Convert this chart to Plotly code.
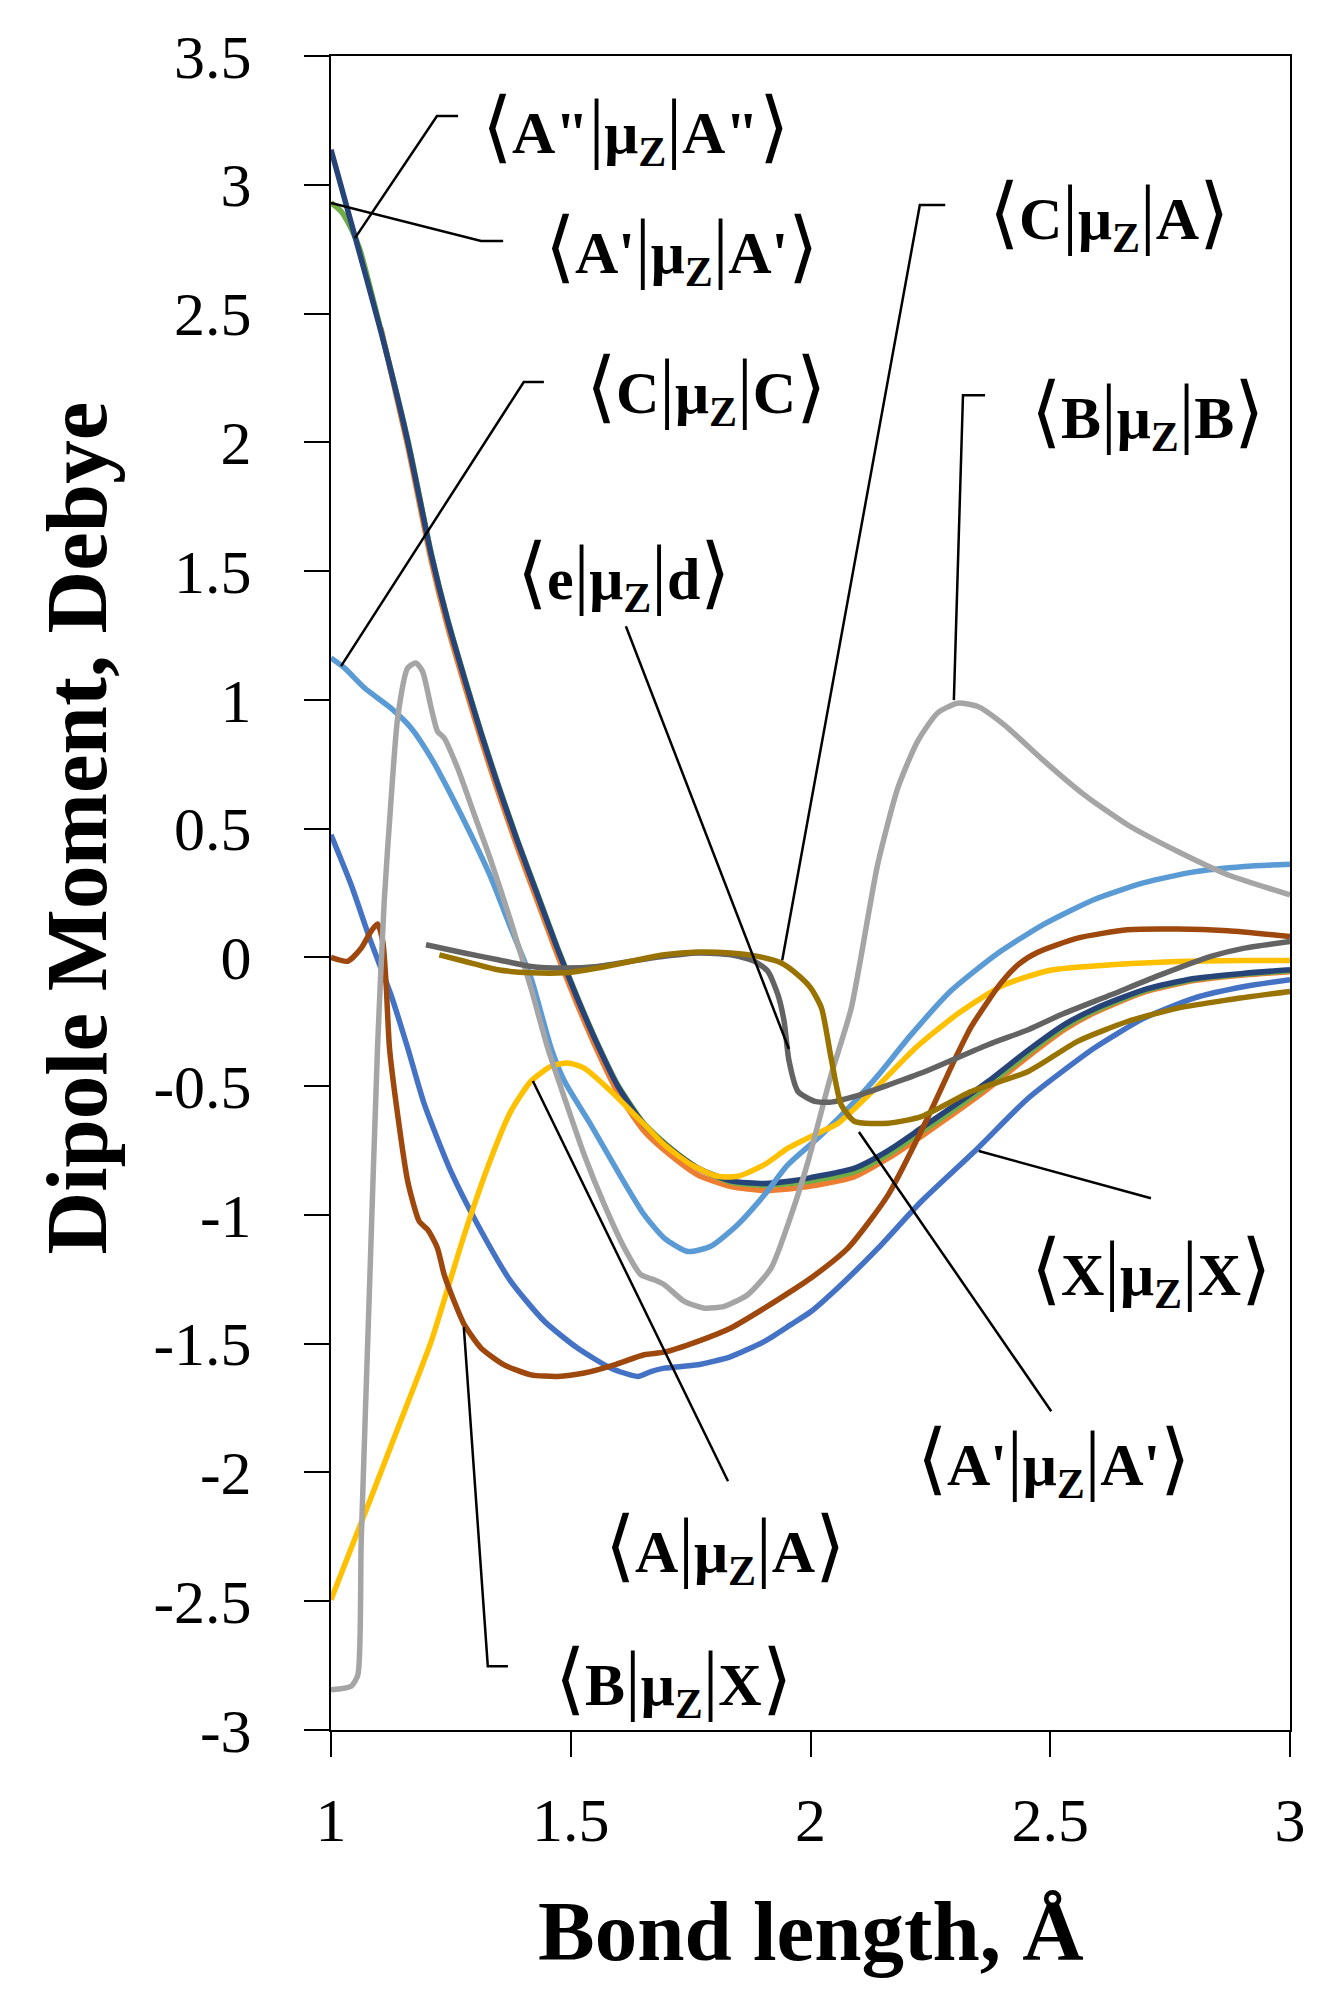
import plotly.graph_objects as go

# ---------------- data ----------------
x_XX = [1.0, 1.042, 1.083, 1.125, 1.16, 1.195, 1.25, 1.306, 1.375, 1.445, 1.514, 1.584, 1.64, 1.667,
        1.695, 1.765, 1.834, 1.904, 1.959, 2.001, 2.07, 2.141, 2.231, 2.349, 2.454, 2.592, 2.696, 2.8,
        2.905, 3.0]
y_XX = [0.476, 0.282, 0.062, -0.145, -0.352, -0.572, -0.831, -1.038, -1.258, -1.413, -1.517, -1.595,
        -1.627, -1.608, -1.595, -1.582, -1.55, -1.491, -1.426, -1.375, -1.26, -1.129, -0.948, -0.741,
        -0.547, -0.352, -0.236, -0.158, -0.113, -0.087]

x_ApAp = [1.104, 1.16, 1.209, 1.243, 1.278, 1.313, 1.348, 1.389, 1.431, 1.473, 1.514, 1.556, 1.598,
          1.653, 1.709, 1.765, 1.834, 1.904, 1.959, 2.001, 2.092, 2.162, 2.231, 2.3, 2.37, 2.454, 2.53,
          2.592, 2.696, 2.8, 2.905, 3.0]
y_ApAp = [2.444, 1.985, 1.54, 1.285, 1.06, 0.845, 0.645, 0.425, 0.215, 0.005, -0.185, -0.365, -0.525,
          -0.675, -0.77, -0.845, -0.89, -0.905, -0.898, -0.888, -0.851, -0.78, -0.695, -0.605, -0.51,
          -0.385, -0.28, -0.215, -0.135, -0.09, -0.068, -0.056]

x_ApAp2 = [1.0, 1.021, 1.042, 1.06, 1.104, 1.16, 1.209, 1.243, 1.278, 1.313, 1.348, 1.389, 1.431,
           1.473, 1.514, 1.556, 1.598, 1.653, 1.709, 1.765, 1.834, 1.904, 1.959, 2.001, 2.092, 2.162,
           2.231, 2.3, 2.37, 2.454, 2.53, 2.592, 2.696, 2.8, 2.905, 3.0]
y_ApAp2 = [2.93, 2.897, 2.83, 2.75, 2.436, 2.01, 1.57, 1.315, 1.09, 0.875, 0.675, 0.455, 0.245, 0.035,
           -0.155, -0.335, -0.495, -0.645, -0.742, -0.818, -0.872, -0.885, -0.878, -0.868, -0.832,
           -0.765, -0.678, -0.59, -0.497, -0.372, -0.27, -0.208, -0.13, -0.086, -0.065, -0.052]

x_AppApp = [1.0, 1.049, 1.104, 1.16, 1.209, 1.243, 1.278, 1.313, 1.348, 1.389, 1.431, 1.473, 1.514,
            1.556, 1.598, 1.653, 1.709, 1.765, 1.834, 1.904, 1.959, 2.001, 2.092, 2.162, 2.231, 2.3,
            2.37, 2.454, 2.53, 2.592, 2.696, 2.8, 2.905, 3.0]
y_AppApp = [3.136, 2.806, 2.431, 2.004, 1.564, 1.31, 1.085, 0.87, 0.67, 0.45, 0.24, 0.03, -0.16,
            -0.34, -0.5, -0.65, -0.745, -0.818, -0.868, -0.878, -0.868, -0.855, -0.818, -0.75, -0.663,
            -0.575, -0.482, -0.36, -0.26, -0.2, -0.125, -0.082, -0.062, -0.048]

x_CC = [1.0, 1.028, 1.07, 1.125, 1.167, 1.209, 1.25, 1.292, 1.334, 1.375, 1.417, 1.459, 1.487, 1.542,
        1.598, 1.653, 1.695, 1.744, 1.792, 1.848, 1.904, 1.953, 2.023, 2.092, 2.14, 2.21, 2.293, 2.39,
        2.488, 2.592, 2.696, 2.8, 2.905, 3.0]
y_CC = [1.163, 1.124, 1.046, 0.968, 0.891, 0.774, 0.632, 0.476, 0.308, 0.114, -0.08, -0.352, -0.481,
        -0.65, -0.831, -0.999, -1.09, -1.142, -1.122, -1.038, -0.922, -0.805, -0.689, -0.56, -0.46,
        -0.3, -0.13, 0.015, 0.13, 0.225, 0.29, 0.332, 0.353, 0.362]

x_AA = [1.0, 1.042, 1.083, 1.139, 1.209, 1.278, 1.334, 1.375, 1.417, 1.459, 1.494, 1.528, 1.584, 1.64,
        1.695, 1.751, 1.806, 1.848, 1.904, 1.953, 2.023, 2.057, 2.14, 2.22, 2.31, 2.4, 2.5, 2.627,
        2.766, 2.905, 3.0]
y_AA = [-2.494, -2.294, -2.1, -1.83, -1.491, -1.077, -0.779, -0.598, -0.481, -0.423, -0.41, -0.43,
        -0.52, -0.624, -0.727, -0.805, -0.85, -0.85, -0.805, -0.741, -0.676, -0.645, -0.5, -0.35,
        -0.215, -0.11, -0.05, -0.029, -0.016, -0.012, -0.012]

x_BB = [1.0, 1.042, 1.056, 1.063, 1.08, 1.097, 1.111, 1.125, 1.139, 1.16, 1.177, 1.191, 1.209, 1.222,
        1.236, 1.264, 1.299, 1.334, 1.375, 1.417, 1.452, 1.487, 1.528, 1.57, 1.612, 1.646, 1.674,
        1.695, 1.737, 1.779, 1.82, 1.869, 1.918, 1.96, 1.995, 2.043, 2.085, 2.14, 2.182, 2.223, 2.265,
        2.307, 2.349, 2.404, 2.488, 2.571, 2.661, 2.766, 2.87, 3.0]
y_BB = [-2.844, -2.83, -2.786, -2.268, -1.3, -0.352, 0.218, 0.606, 0.93, 1.124, 1.143, 1.11, 0.968,
        0.878, 0.852, 0.735, 0.554, 0.373, 0.14, -0.119, -0.352, -0.546, -0.766, -0.96, -1.129,
        -1.232, -1.252, -1.271, -1.336, -1.362, -1.355, -1.31, -1.206, -0.999, -0.792, -0.456, -0.197,
        0.36, 0.657, 0.838, 0.949, 0.987, 0.974, 0.903, 0.761, 0.631, 0.515, 0.411, 0.321, 0.243]

x_BX = [1.0, 1.035, 1.063, 1.083, 1.097, 1.108, 1.115, 1.122, 1.139, 1.16, 1.184, 1.202, 1.222, 1.236,
        1.257, 1.278, 1.313, 1.361, 1.417, 1.473, 1.528, 1.591, 1.653, 1.695, 1.765, 1.834, 1.904,
        1.959, 2.001, 2.078, 2.162, 2.245, 2.3, 2.335, 2.397, 2.435, 2.474, 2.557, 2.661, 2.766, 2.87,
        3.0]
y_BX = [0.0, -0.015, 0.036, 0.1, 0.13, 0.062, -0.106, -0.352, -0.611, -0.87, -1.025, -1.058, -1.129,
        -1.232, -1.336, -1.426, -1.517, -1.582, -1.621, -1.627, -1.614, -1.582, -1.543, -1.533,
        -1.491, -1.439, -1.362, -1.297, -1.245, -1.129, -0.922, -0.62, -0.4, -0.27, -0.1, -0.025,
        0.02, 0.075, 0.107, 0.11, 0.103, 0.081]

x_ed = [1.198, 1.278, 1.348, 1.417, 1.487, 1.556, 1.626, 1.695, 1.765, 1.834, 1.883, 1.911, 1.932,
        1.945, 1.955, 1.974, 2.009, 2.043, 2.092, 2.231, 2.37, 2.454, 2.522, 2.627, 2.731, 2.835,
        2.905, 3.0]
y_ed = [0.049, 0.017, -0.009, -0.035, -0.041, -0.035, -0.015, 0.004, 0.017, 0.01, -0.015, -0.054,
        -0.145, -0.249, -0.4, -0.521, -0.559, -0.562, -0.54, -0.449, -0.339, -0.281, -0.223, -0.145,
        -0.067, 0.004, 0.036, 0.062]

x_CA = [1.226, 1.278, 1.348, 1.417, 1.487, 1.556, 1.626, 1.695, 1.765, 1.834, 1.89, 1.939, 1.973,
        2.001, 2.023, 2.043, 2.064, 2.092, 2.162, 2.231, 2.335, 2.454, 2.557, 2.661, 2.766, 2.87, 3.0]
y_CA = [0.01, -0.015, -0.048, -0.06, -0.06, -0.041, -0.015, 0.01, 0.021, 0.017, 0.004, -0.022, -0.067,
        -0.12, -0.197, -0.391, -0.572, -0.637, -0.644, -0.618, -0.521, -0.443, -0.326, -0.249,
        -0.197, -0.165, -0.132]

y_tickvals = [3.5, 3, 2.5, 2, 1.5, 1, 0.5, 0, -0.5, -1, -1.5, -2, -2.5, -3]
y_ticktext = ["3.5", "3", "2.5", "2", "1.5", "1", "0.5", "0", "-0.5", "-1", "-1.5", "-2", "-2.5", "-3"]
x_tickvals = [1, 1.5, 2, 2.5, 3]
x_ticktext = ["1", "1.5", "2", "2.5", "3"]

# bra, ket, label centre, leader line path (all in data units)
labels = [
    ('A"', 'A"', 1.636, 3.217, [(1.265, 3.267), (1.221, 3.267), (1.050, 2.793)]),
    ("A'", "A'", 1.730, 2.750, [(1.359, 2.782), (1.313, 2.782), (1.0, 2.929)]),
    ("C", "C", 1.782, 2.207, [(1.444, 2.234), (1.402, 2.234), (1.021, 1.131)]),
    ("e", "d", 1.611, 1.485, [(1.615, 1.286), (1.955, -0.356)]),
    ("C", "A", 2.623, 2.883, [(2.281, 2.921), (2.228, 2.921), (1.941, -0.011)]),
    ("B", "B", 2.702, 2.110, [(2.364, 2.183), (2.318, 2.183), (2.299, 0.999)]),
    ("X", "X", 2.710, -1.218, [(2.710, -0.935), (2.351, -0.752)]),
    ("A'", "A'", 2.506, -1.956, [(2.502, -1.762), (2.101, -0.678)]),
    ("A", "A", 1.822, -2.294, [(1.828, -2.034), (1.421, -0.480)]),
    ("B", "X", 1.715, -2.811, [(1.369, -2.752), (1.327, -2.752), (1.277, -1.436)]),
]

FONT = "Liberation Serif"


def thin(s):
    # brackets and bars: light and taller than the letters
    return '<span style="font-weight:normal;font-size:78px">' + s + '</span>'


def braket(bra, ket):
    return (thin("⟨") + "<b>" + bra + "</b>" + thin("|") + "<b>μ</b><sub><b>Z</b></sub>"
            + thin("|") + "<b>" + ket + "</b>" + thin("⟩"))


################################ plot ################################
fig = go.Figure()

series = [
    (x_XX, y_XX, "#4472C4"),
    (x_ApAp, y_ApAp, "#ED7D31"),
    (x_ApAp2, y_ApAp2, "#70AD47"),
    (x_AppApp, y_AppApp, "#264478"),
    (x_CC, y_CC, "#5B9BD5"),
    (x_AA, y_AA, "#FFC000"),
    (x_BX, y_BX, "#9E480E"),
    (x_BB, y_BB, "#A5A5A5"),
    (x_ed, y_ed, "#636363"),
    (x_CA, y_CA, "#997300"),
]
for xs, ys, col in series:
    fig.add_trace(go.Scatter(x=xs, y=ys, mode="lines",
                             line=dict(color=col, width=5.5, shape="spline", smoothing=0.6),
                             showlegend=False, hoverinfo="skip"))

for bra, ket, tx, ty, path in labels:
    fig.add_annotation(x=tx, y=ty, xref="x", yref="y", text=braket(bra, ket),
                       showarrow=False, xanchor="center", yanchor="middle",
                       font=dict(family=FONT, size=60, color="black"))
    d = "M " + " L ".join("%s,%s" % p for p in path)
    fig.add_shape(type="path", path=d, xref="x", yref="y",
                  line=dict(color="black", width=2.5), layer="above")

# axis titles
fig.add_annotation(x=0.5, y=-0.12, xref="paper", yref="paper", text="<b>Bond length, Å</b>",
                   showarrow=False, xanchor="center", yanchor="middle",
                   font=dict(family=FONT, size=85, color="black"))
fig.add_annotation(x=-0.265, y=0.539, xref="paper", yref="paper", text="<b>Dipole Moment, Debye</b>",
                   showarrow=False, xanchor="center", yanchor="middle", textangle=-90,
                   font=dict(family=FONT, size=87, color="black"))

fig.update_xaxes(range=[1, 3], tickvals=x_tickvals, ticktext=x_ticktext,
                 showgrid=False, zeroline=False, showline=True, linecolor="black", linewidth=2,
                 mirror=True, ticks="outside", ticklen=25, tickwidth=2, tickcolor="black",
                 ticklabelstandoff=10,
                 tickfont=dict(family=FONT, size=62, color="black"))
fig.update_yaxes(range=[-3, 3.5], tickvals=y_tickvals, ticktext=y_ticktext,
                 showgrid=False, zeroline=False, showline=True, linecolor="black", linewidth=2,
                 mirror=True, ticks="outside", ticklen=25, tickwidth=2, tickcolor="black",
                 ticklabelstandoff=40,
                 tickfont=dict(family=FONT, size=62, color="black"))

fig.update_layout(width=1333, height=1989, plot_bgcolor="white", paper_bgcolor="white",
                  margin=dict(l=323, r=51, t=48, b=267), showlegend=False)

fig.write_html("out.html")
